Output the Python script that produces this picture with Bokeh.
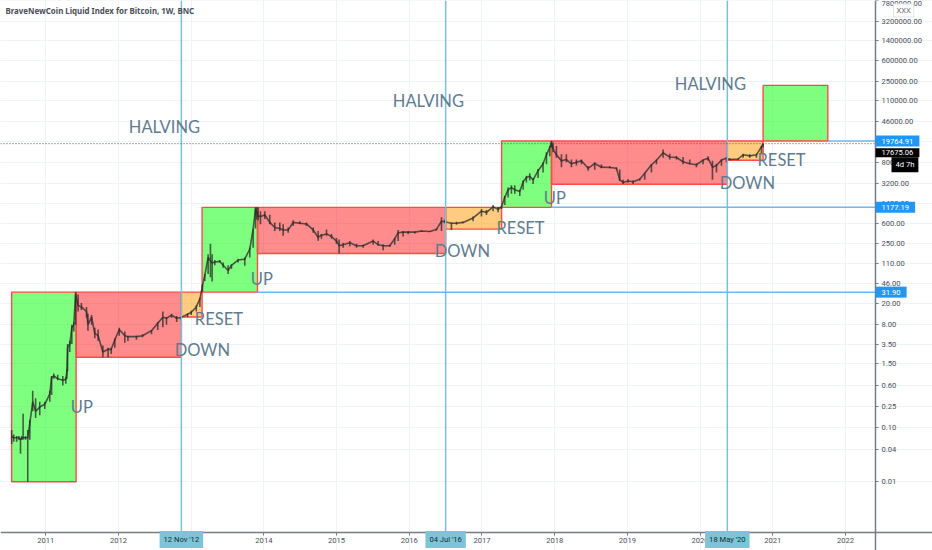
from bokeh.core.properties import value
from bokeh.embed import file_html
from bokeh.models import FixedTicker, Label, PrintfTickFormatter, Range1d
from bokeh.plotting import figure
from bokeh.resources import INLINE

# weekly bars (x in decimal years)
bar_x = [2010.53, 2010.56, 2010.6, 2010.63, 2010.652, 2010.67, 2010.688, 2010.72, 2010.752, 2010.78, 2010.82, 2010.86, 2010.917, 2010.986, 2011.055, 2011.08, 2011.11, 2011.165, 2011.234, 2011.275, 2011.29, 2011.30, 2011.33, 2011.358, 2011.385, 2011.41,
         2011.444, 2011.49, 2011.56, 2011.58, 2011.63, 2011.674, 2011.72, 2011.785, 2011.857, 2011.90, 2011.95, 2012.01, 2012.087, 2012.13, 2012.247, 2012.33, 2012.454, 2012.54, 2012.61, 2012.66, 2012.73, 2012.8, 2012.857,
         2012.95, 2013.0, 2013.07, 2013.12, 2013.155, 2013.187, 2013.233, 2013.265, 2013.288, 2013.325, 2013.394, 2013.44, 2013.508, 2013.554, 2013.645, 2013.737, 2013.806, 2013.852, 2013.884, 2013.898,
         2013.921, 2013.953, 2014.013, 2014.081, 2014.15, 2014.219, 2014.265, 2014.334, 2014.402, 2014.494, 2014.586, 2014.678, 2014.746, 2014.792, 2014.861, 2014.93, 2014.998, 2015.035, 2015.09, 2015.182, 2015.274, 2015.365, 2015.503, 2015.572, 2015.64, 2015.732, 2015.8, 2015.847, 2015.915, 2015.984, 2016.076, 2016.168, 2016.282, 2016.374, 2016.443, 2016.489,
         2016.58, 2016.649, 2016.74, 2016.878, 2016.993, 2017.062, 2017.153, 2017.222, 2017.268,
         2017.313, 2017.359, 2017.405, 2017.451, 2017.52, 2017.566, 2017.611, 2017.657, 2017.703, 2017.772, 2017.84, 2017.887, 2017.932, 2017.955,
         2017.978, 2018.024, 2018.093, 2018.161, 2018.23, 2018.299, 2018.368, 2018.46, 2018.551, 2018.643, 2018.758, 2018.849, 2018.895, 2018.941, 2019.01, 2019.078, 2019.17, 2019.239, 2019.331, 2019.4, 2019.491, 2019.583, 2019.675, 2019.766, 2019.858, 2019.95, 2020.041, 2020.11, 2020.17, 2020.225, 2020.294, 2020.362,
         2020.408, 2020.523, 2020.592, 2020.683, 2020.775, 2020.844, 2020.867]
bar_low = [0.05, 0.055, 0.055, 0.06, 0.033, 0.06, 0.06, 0.06, 0.01, 0.06, 0.2, 0.15, 0.17, 0.22, 0.3, 0.4, 0.8, 0.75, 0.6, 0.65, 0.8, 1.1, 2.5, 3.5, 6, 8,
           14, 15, 10.8, 6.2, 8, 4.5, 4, 2, 2, 2.3, 3, 5, 3.7, 4, 4.2, 4.7, 5.3, 6.4, 7.2, 8, 10.7, 9, 10,
           11, 12, 14, 17, 32, 51, 69, 60, 50, 100, 113, 90, 69, 85, 113, 98, 139, 210, 480, 700,
           670, 575, 720, 575, 430, 430, 350, 400, 530, 575, 530, 400, 283, 310, 350, 310, 250, 165, 210, 225, 210, 210, 240, 230, 190, 220, 240, 280, 340, 375, 385, 410, 410, 440, 430, 600,
           450, 560, 600, 650, 800, 850, 1000, 950, 1100,
           1300, 1780, 2100, 2100, 1900, 2500, 3400, 3700, 3170, 4100, 5200, 7400, 10400, 15000,
           12300, 9700, 6500, 8000, 6500, 7000, 7400, 5600, 5800, 6200, 6200, 5900, 3600, 3170, 3400, 3170, 3700, 3800, 5200, 7400, 9700, 9000, 9000, 7400, 7400, 6500, 7400, 8500, 3800, 5200, 6900, 8000,
           8700, 8700, 9700, 9700, 9700, 11300, 15000]
bar_high = [0.09, 0.075, 0.07, 0.07, 0.065, 0.07, 0.18, 0.07, 0.09, 0.14, 0.48, 0.35, 0.3, 0.3, 0.48, 0.9, 1.0, 0.95, 0.9, 0.85, 1.2, 3.5, 4, 8, 9, 32,
           29, 20, 17, 12.7, 12, 7, 6.5, 3.3, 3, 3, 4.5, 7, 6, 5, 5, 5.3, 6.4, 9, 14, 11, 12.7, 11.5, 11,
           13, 14.5, 18, 25, 44, 69, 160, 250, 160, 125, 125, 113, 100, 105, 130, 139, 210, 480, 1177, 1177,
           1177, 1000, 1000, 860, 620, 620, 575, 500, 680, 650, 620, 500, 430, 380, 460, 380, 320, 300, 260, 280, 250, 240, 300, 280, 245, 240, 320, 450, 430, 430, 420, 440, 430, 480, 770, 700,
           620, 640, 640, 800, 1100, 1050, 1300, 1200, 1250,
           1900, 2750, 3000, 3000, 2500, 3700, 4500, 5000, 4100, 6000, 8000, 12300, 16000, 19700,
           18500, 16000, 11300, 11300, 9000, 9000, 9000, 6800, 8000, 7400, 6800, 6500, 5900, 3800, 3900, 3700, 4000, 5200, 7400, 9000, 13800, 11500, 10500, 10000, 9000, 7600, 9000, 10300, 8500, 7500, 9000, 10000,
           9500, 9500, 11500, 11300, 11500, 16000, 17800]
bar_close = [0.07, 0.065, 0.065, 0.065, 0.06, 0.065, 0.065, 0.065, 0.065, 0.12, 0.3, 0.2, 0.24, 0.27, 0.42, 0.85, 0.9, 0.8, 0.75, 0.78, 1.1, 3, 3.5, 7, 8, 29,
           18, 17, 14, 8, 11, 5.5, 5, 2.5, 2.8, 2.8, 4.2, 6.5, 5, 4.8, 4.8, 5, 6.2, 8.5, 11, 10.5, 12, 10.5, 10.8,
           12.5, 13.5, 17, 24, 42, 65, 140, 120, 110, 115, 118, 100, 80, 100, 125, 130, 200, 460, 1100, 1000,
           800, 800, 850, 620, 500, 480, 450, 450, 620, 600, 580, 450, 330, 360, 380, 340, 280, 230, 240, 260, 230, 230, 280, 240, 230, 230, 310, 400, 410, 410, 410, 430, 420, 460, 650, 640,
           600, 600, 620, 750, 1000, 950, 1200, 1080, 1200,
           1800, 2500, 2700, 2500, 2300, 3500, 4200, 4400, 3800, 5600, 7500, 11000, 15000, 18500,
           14000, 11000, 8500, 9000, 7500, 8000, 8500, 6200, 7600, 6500, 6400, 6200, 3800, 3400, 3600, 3500, 3900, 5000, 7200, 8700, 12000, 10000, 9800, 8200, 7500, 7200, 8800, 9500, 6500, 7000, 8800, 9500,
           9000, 9200, 11000, 10500, 11000, 15500, 17675]

# boxes (start, end, bottom, top)
up_left = [2010.53, 2013.15, 2017.27, 2020.867]
up_right = [2011.417, 2013.912, 2017.956, 2021.757]
up_bottom = [0.01, 31.9, 1177.19, 19764.91]
up_top = [31.9, 1177.19, 19764.91, 211000]
down_left = [2011.417, 2013.912, 2017.956]
down_right = [2012.865, 2016.5, 2020.375]
down_bottom = [2.0, 165, 3150]
down_top = [31.9, 1177.19, 19764.91]
reset_left = [2012.865, 2016.5, 2020.375]
reset_right = [2013.15, 2017.27, 2020.867]
reset_bottom = [11.07, 466, 8730]
reset_top = [31.9, 1177.19, 19764.91]

halving_x = [2012.865, 2016.5, 2020.375]
halving_tags = ["12 Nov '12", "04 Jul '16", "18 May '20"]
level_prices = [31.90, 1177.19, 19764.91]
level_starts = [2013.912, 2017.956, 2021.757]
last_price = 17675.06

note_x = [2012.142, 2015.773, 2019.652, 2011.344, 2012.774, 2013.05, 2013.82, 2016.35, 2017.2, 2017.85, 2020.27, 2020.79]
note_y = [35900, 108400, 223400, 0.245, 2.76, 10.3, 56, 185, 492, 1760, 3330, 8830]
note_text = ["HALVING", "HALVING", "HALVING", "UP", "DOWN", "RESET", "UP", "DOWN", "RESET", "UP", "DOWN", "RESET"]

year_ticks = list(range(2011, 2023))
price_ticks = [0.01, 0.04, 0.10, 0.25, 0.60, 1.50, 3.50, 8, 20, 46, 110, 250, 600, 1400, 3200, 8000, 19000,
               46000, 110000, 250000, 600000, 1400000, 3200000, 7800000]

# the frame fills the whole figure and the axes sit inside it at fixed spots,
# otherwise the tags over the axes get clipped away
X_START, X_AXIS, X_END = 2010.377, 2022.413, 2023.197
Y_BOTTOM, Y_AXIS, Y_TOP = 0.000537, 0.001156, 7.81e6
TAG_FONT = "Roboto"

p = figure(width=932, height=550, x_range=Range1d(X_START, X_END), y_range=Range1d(Y_BOTTOM, Y_TOP),
           y_axis_type="log", y_axis_location="right", output_backend="svg", toolbar_location=None,
           min_border=0)
p.outline_line_color = None

p.xaxis.fixed_location = Y_AXIS
p.yaxis.fixed_location = X_AXIS
p.xaxis.ticker = FixedTicker(ticks=year_ticks)
p.xaxis.formatter = PrintfTickFormatter(format="%d")
p.yaxis.ticker = FixedTicker(ticks=price_ticks)
p.yaxis.formatter = PrintfTickFormatter(format="%.2f")
for ax in (p.xaxis, p.yaxis):
    ax.axis_line_color = "#787b86"
    ax.axis_line_width = 1.5
    ax.major_tick_line_color = "#787b86"
    ax.major_tick_out = 3
    ax.major_tick_in = 0
    ax.minor_tick_line_color = None
    ax.major_label_text_font = "Roboto"
    ax.major_label_text_font_size = "7.6px"
    ax.major_label_text_color = "#4c4f5a"
    ax.major_label_standoff = 3
p.xgrid.grid_line_color = "#eef3f8"
p.ygrid.grid_line_color = "#eef3f8"
p.xgrid.minor_grid_line_color = None
p.ygrid.minor_grid_line_color = None
p.xgrid.bounds = (Y_AXIS, Y_TOP)
p.ygrid.bounds = (X_START, X_AXIS)

p.quad(left=up_left, right=up_right, bottom=up_bottom, top=up_top,
       fill_color="#00ff00", fill_alpha=0.5, line_color="#ff4a4a", line_width=1.4)
p.quad(left=down_left, right=down_right, bottom=down_bottom, top=down_top,
       fill_color="#ff0000", fill_alpha=0.45, line_color="#ff4a4a", line_width=1.4)
p.quad(left=reset_left, right=reset_right, bottom=reset_bottom, top=reset_top,
       fill_color="#ff9800", fill_alpha=0.5, line_color="#ff4a4a", line_width=1.4)

p.line(bar_x, bar_close, line_color="#2a2a2a", line_alpha=0.75, line_width=1.6)
p.segment(bar_x, bar_low, bar_x, bar_high, line_color="#2a2a2a", line_alpha=0.75, line_width=1.6)

for hx in halving_x:
    p.segment([hx], [Y_AXIS], [hx], [Y_TOP], line_color="#7cc0d6", line_width=1.5)
for start, price in zip(level_starts, level_prices):
    p.segment([start], [price], [X_AXIS], [price], line_color="#6db8f2", line_width=1.5)
p.segment([X_START], [last_price], [X_AXIS], [last_price], line_color="#50535e",
          line_width=1, line_dash="1 2")

p.text(note_x, note_y, text=note_text, text_font=value("Lato"), text_font_size="16.5px",
       text_color="#5f7b8f", text_baseline="middle", text_align="left")

p.add_layout(Label(x=X_START, y=Y_TOP, text="BraveNewCoin Liquid Index for Bitcoin, 1W, BNC",
                   text_font="Noto Sans", text_font_size="7.9px", text_font_style="bold",
                   text_color="#4a4e59", text_baseline="middle", x_offset=5, y_offset=-10))

# price tags on the right axis
for price in level_prices:
    p.add_layout(Label(x=X_AXIS, y=price, text=f"{price:.2f}", text_font=TAG_FONT, text_font_size="7.6px",
                       text_color="white", text_baseline="middle", background_fill_color="#2196f3",
                       padding=(6, 3)))
p.add_layout(Label(x=X_AXIS, y=last_price, text=f"{last_price:.2f}", text_font=TAG_FONT, text_font_size="7.6px",
                   text_color="white", text_baseline="middle", background_fill_color="#000000",
                   padding=(6, 2), y_offset=-9))
p.add_layout(Label(x=X_AXIS, y=last_price, text="4d 7h", text_font=TAG_FONT, text_font_size="7.6px",
                   text_color="white", text_baseline="middle", background_fill_color="#000000",
                   padding=(4, 3), x_offset=16, y_offset=-21))
p.add_layout(Label(x=X_AXIS, y=Y_TOP, text="XXX", text_font=TAG_FONT, text_font_size="7.6px",
                   text_color="#6a6d78", text_baseline="middle", background_fill_color="white",
                   border_line_color="#e0e3eb", padding=(3, 2), x_offset=18, y_offset=-10))

# date tags under the halving lines
for hx, tag in zip(halving_x, halving_tags):
    p.add_layout(Label(x=hx, y=Y_AXIS, text=tag, text_font=TAG_FONT, text_font_size="7.6px",
                       text_color="#1c2a30", text_align="center", text_baseline="middle",
                       background_fill_color="#7cc4d8", padding=(4, 4), y_offset=-7))

open("out.html", "w").write(file_html(p, INLINE))
